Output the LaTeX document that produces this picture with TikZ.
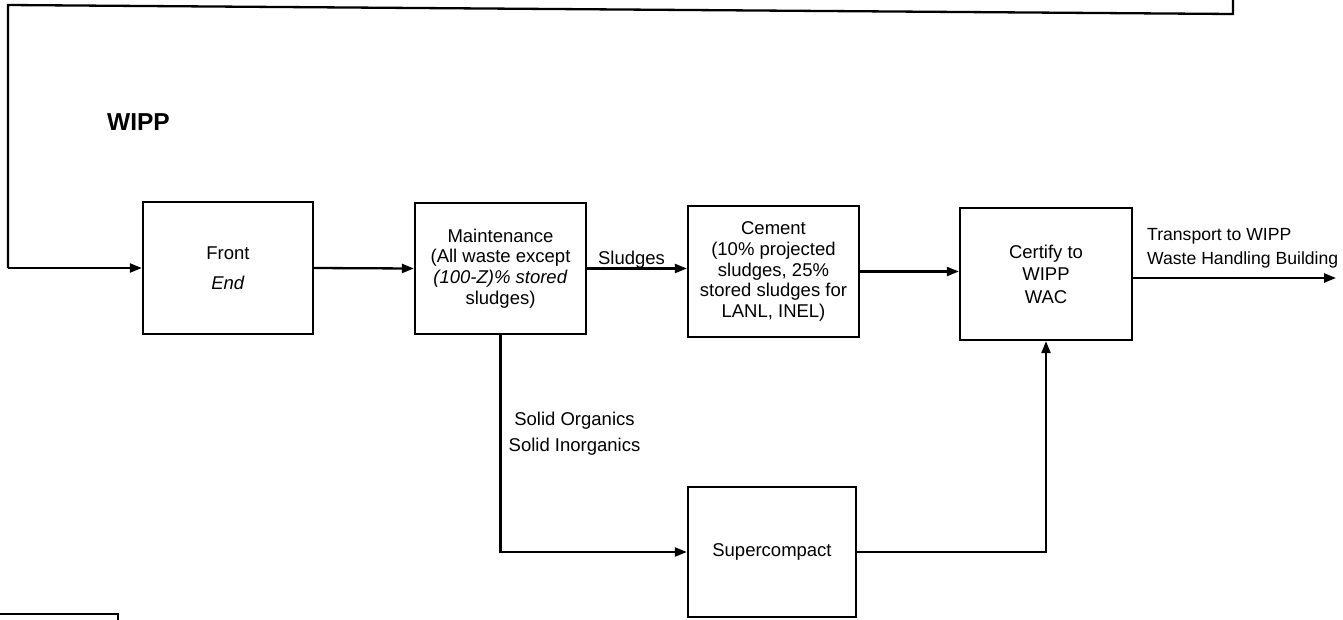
\documentclass[tikz,border=0pt]{standalone}
\usepackage{fontspec}
\setmainfont{Liberation Sans}
\usetikzlibrary{arrows.meta}
\begin{document}
\begin{tikzpicture}[x=1pt,y=-1pt,
  line width=2.3pt,
  flow/.style={-{Triangle[length=12pt,width=9pt]}},
  stepbox/.style={draw,rectangle,inner sep=0pt,align=center},
  lbl/.style={inner sep=0pt},
  txt/.style={font=\fontsize{18.5}{#1}\selectfont},
  txt/.default=20.7]
\useasboundingbox (0,0) rectangle (1343,619);

\node[lbl,anchor=base west,font=\fontsize{24.5}{26}\selectfont\bfseries] (wipp) at (106,130) {WIPP};

\node[stepbox,minimum width=170pt,minimum height=132pt,txt=30] (fe) at (228,268) {Front\\\textit{End}};
\node[stepbox,minimum width=171pt,minimum height=131pt,txt=20.7] (mt) at (500.5,268.5)
  {Maintenance\\(All waste except\\\textit{(100-Z)\% stored}\\sludges)};
\node[stepbox,minimum width=171pt,minimum height=131pt,txt=20.8] (ce) at (773.5,271.5)
  {Cement\\(10\% projected\\sludges, 25\%\\stored sludges for\\LANL, INEL)};
\node[stepbox,minimum width=172pt,minimum height=132pt,txt=22.5] (cw) at (1046,274)
  {Certify to\\WIPP\\WAC};
\node[stepbox,minimum width=168pt,minimum height=130pt,txt] (sc) at (772,552) {Supercompact};

\coordinate (tr) at (1233,0);
\coordinate (trc) at (1233,14);
\coordinate (tl) at (8,5);
\coordinate (tend) at (1336,278);

\draw (tr) -- (trc) -- (tl) -- (tl |- fe.west);
\draw[flow] (tl |- fe.west) -- (fe.west);
\draw[flow] (fe.east) -- (mt.west);
\draw[flow] (mt.east) -- (mt.east -| ce.west);
\draw[flow] (ce.east) -- (ce.east -| cw.west);
\draw[flow] (cw.east |- tend) -- (tend);
\draw[flow] (mt.south) |- (sc.west);
\draw[flow] (sc.east) -| (cw.south);

\node[lbl,anchor=base west,txt] (sl) at (597,264.5) {Sludges};
\node[lbl,anchor=north west,align=left,font=\fontsize{17.6}{24}\selectfont] (tw) at (1146,227)
  {Transport to WIPP\\Waste Handling Building};
\node[lbl,anchor=north,align=center,txt=26] (so) at (574.5,410.5)
  {Solid Organics\\Solid Inorganics};

\draw (0,614) -- (118,614) -- (118,625);
\end{tikzpicture}
\end{document}
